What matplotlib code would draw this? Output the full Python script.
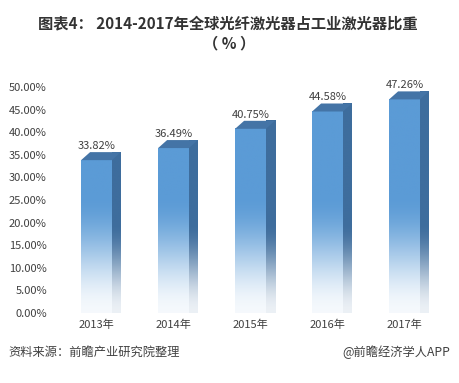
import numpy as np
import matplotlib
matplotlib.use("Agg")
import matplotlib.pyplot as plt
from matplotlib.patches import Polygon
from matplotlib.colors import to_rgb

plt.rcParams['font.family'] = ['Noto Sans CJK SC', 'DejaVu Sans']

categories = ['2013年', '2014年', '2015年', '2016年', '2017年']
values = [33.82, 36.49, 40.75, 44.58, 47.26]
yticks = [0, 5, 10, 15, 20, 25, 30, 35, 40, 45, 50]
title_line1 = '图表4： 2014-2017年全球光纤激光器占工业激光器比重'
title_line2 = '（ % ）'
source_text = '资料来源：前瞻产业研究院整理'
brand_text = '@前瞻经济学人APP'

W, H = 459, 383
fig = plt.figure(figsize=(W / 100, H / 100), dpi=100)
fig.patch.set_facecolor('white')
ax = fig.add_axes([58 / W, 1 - 313 / H, (443 - 58) / W, (313 - 87) / H])
ax.set_xlim(-0.5, len(categories) - 0.5)
ax.set_ylim(0, 50)
for s in ax.spines.values():
    s.set_visible(False)

front_c = np.array(to_rgb('#5b9bd6'))
side_c = np.array(to_rgb('#3e6d9d'))
top_c = np.array(to_rgb('#4474a6'))
white = np.array([1.0, 1.0, 1.0])

half = 0.2
dx = 9 / 77.0
dy = 8 / 4.52


def grad_image(color, ymax, n=400, fade_top=24.0, t0=0.05):
    ys = np.linspace(0, ymax, n)
    s = np.clip(ys / fade_top, 0, 1)
    s = s * s * (3 - 2 * s)
    t = t0 + (1 - t0) * s
    img = white[None, :] * (1 - t[:, None]) + color[None, :] * t[:, None]
    return img[:, None, :]


for i, v in enumerate(values):
    fx0, fx1 = i - half, i + half
    front = Polygon([(fx0, 0), (fx1, 0), (fx1, v), (fx0, v)], closed=True,
                    facecolor='none', edgecolor='none', clip_on=False)
    ax.add_patch(front)
    im = ax.imshow(grad_image(front_c, v, fade_top=26.0, t0=0.06),
                   extent=(fx0, fx1, 0, v), origin='lower',
                   aspect='auto', interpolation='bilinear', zorder=2, clip_on=False)
    im.set_clip_path(front)
    side = Polygon([(fx1, 0), (fx1, v), (fx1 + dx, v + dy), (fx1 + dx, dy)], closed=True,
                   facecolor='none', edgecolor='none', clip_on=False)
    ax.add_patch(side)
    im2 = ax.imshow(grad_image(side_c, v + dy, fade_top=20.0, t0=0.1),
                    extent=(fx1, fx1 + dx, 0, v + dy), origin='lower',
                    aspect='auto', interpolation='bilinear', zorder=2, clip_on=False)
    im2.set_clip_path(side)
    top = Polygon([(fx0, v), (fx1, v), (fx1 + dx, v + dy), (fx0 + dx, v + dy)], closed=True,
                  facecolor=top_c, edgecolor='none', zorder=3, clip_on=False)
    ax.add_patch(top)
    ax.annotate(f'{v:.2f}%', xy=(i, v), xytext=(0, 14), textcoords='offset pixels',
                ha='center', va='center', fontsize=8, color='#404040',
                annotation_clip=False)

ax.set_xticks(range(len(categories)))
ax.set_xticklabels(categories, fontsize=8, color='#404040')
ax.set_yticks(yticks)
ax.set_yticklabels([f'{t:.2f}%' for t in yticks], fontsize=8, color='#404040')
ax.tick_params(axis='both', length=0)
ax.tick_params(axis='x', pad=5)
ax.tick_params(axis='y', pad=8)

fig.text(228 / W, 1 - 23 / H, title_line1, ha='center', va='center', fontsize=11,
         fontweight='bold', color='#333333')
fig.text(229 / W, 1 - 43 / H, title_line2, ha='center', va='center', fontsize=11,
         fontweight='bold', color='#333333')
fig.text(8 / W, 1 - 352 / H, source_text, ha='left', va='center', fontsize=8.8,
         color='#404040', fontstyle='italic')
fig.text(450 / W, 1 - 352 / H, brand_text, ha='right', va='center', fontsize=8.8,
         color='#404040')

fig.savefig('out.png', dpi=100, facecolor='white')
